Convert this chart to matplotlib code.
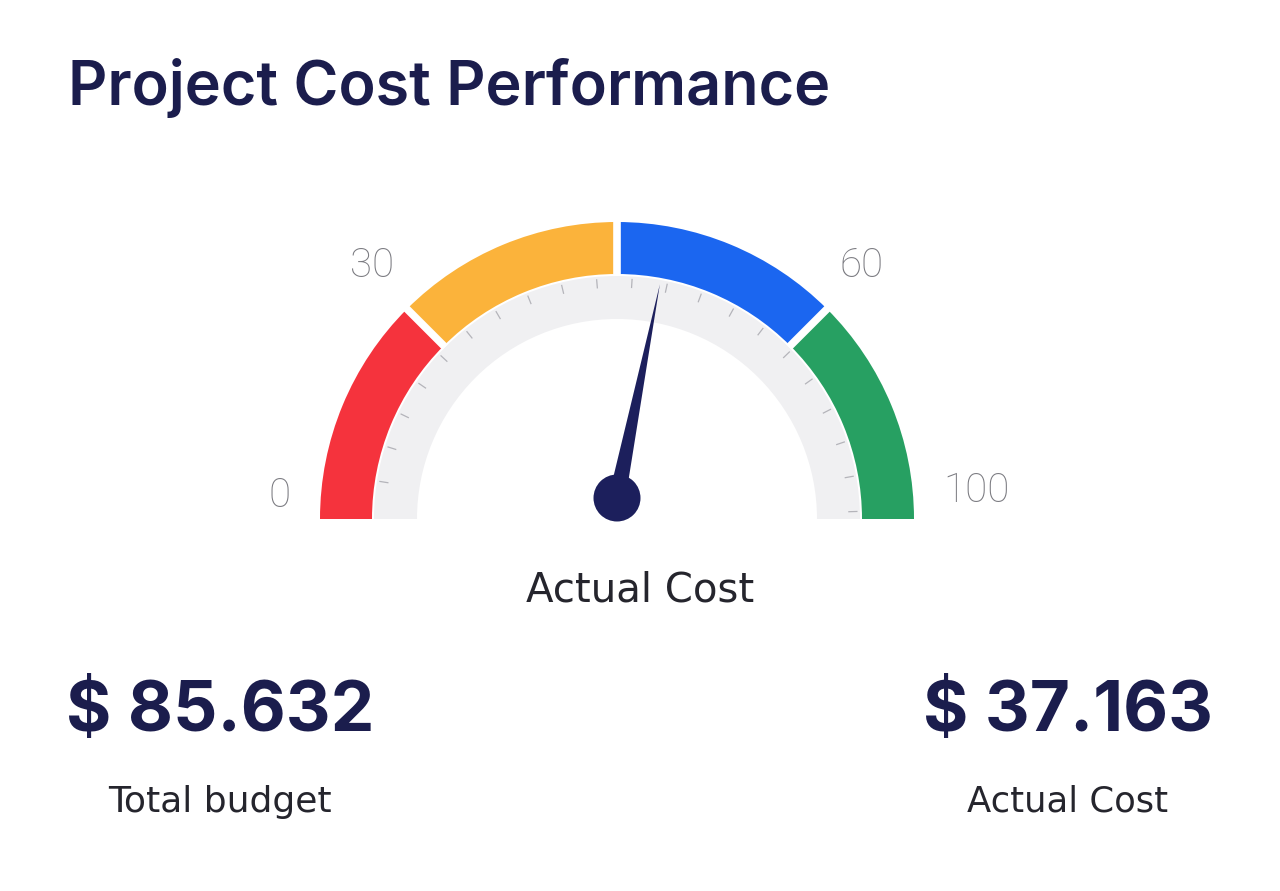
import numpy as np
import matplotlib
matplotlib.use("Agg")
import matplotlib.pyplot as plt
from matplotlib.patches import Wedge, Circle, Polygon

# ---- data ----
title = "Project Cost Performance"
segment_edges = [0, 25, 50, 75, 100]          # gauge scale positions of the coloured bands
segment_colors = ["#f5333d", "#fbb33b", "#1b66f0", "#27a062"]
label_positions = [2.2, 25.5, 74.5, 97.5]      # where the scale labels sit on the gauge
label_texts = ["0", "30", "60", "100"]
minor_ticks = np.arange(5, 100, 4.7)
needle_value = 56.3
gauge_caption = "Actual Cost"
kpi_values = ["$ 85.632", "$ 37.163"]
kpi_labels = ["Total budget", "Actual Cost"]

W, H = 1280, 891
fig = plt.figure(figsize=(W / 100, H / 100), dpi=100)
ax = fig.add_axes([0, 0, 1, 1])
ax.set_xlim(0, W)
ax.set_ylim(0, H)
ax.set_aspect("equal")
ax.axis("off")

NAVY = "#1b1d4d"
cx, cy = 617, H - 519
R_out, R_mid, R_in = 297, 245, 200


def ang(v):
    return 180 - v / 100 * 180


# grey track
ax.add_patch(Wedge((cx, cy), R_mid - 2, 0, 180, width=R_mid - 2 - R_in,
                   facecolor="#f0f0f2", edgecolor="none"))
# coloured bands
for i, c in enumerate(segment_colors):
    a1, a2 = ang(segment_edges[i + 1]), ang(segment_edges[i])
    ax.add_patch(Wedge((cx, cy), R_out, a1, a2, width=R_out - R_mid,
                       facecolor=c, edgecolor="none"))
# white gaps
for v in segment_edges[1:-1]:
    t = np.radians(ang(v))
    ax.plot([cx + (R_mid - 2) * np.cos(t), cx + (R_out + 5) * np.cos(t)],
            [cy + (R_mid - 2) * np.sin(t), cy + (R_out + 5) * np.sin(t)],
            color="white", lw=5.5, solid_capstyle="butt")

# minor ticks
for v in minor_ticks:
    t = np.radians(ang(v))
    ax.plot([cx + 232 * np.cos(t), cx + 240 * np.cos(t)],
            [cy + 232 * np.sin(t), cy + 240 * np.sin(t)],
            color="#b4b4ba", lw=0.9)

# scale labels
for v, s in zip(label_positions, label_texts):
    t = np.radians(ang(v))
    r = 352 if s not in ("0", "100") else (338 if s == "0" else 361)
    ax.text(cx + r * np.cos(t), cy + r * np.sin(t), s, ha="center", va="center",
            fontsize=29, color="#7a7a80", family="Roboto", fontweight="light")

# needle
hx, hy = 617, H - 498
t = np.radians(ang(needle_value))
L = 218
tip = (hx + L * np.cos(t), hy + L * np.sin(t))
px, py = -np.sin(t), np.cos(t)
bw = 8.5
ax.add_patch(Circle((hx, hy), 27, facecolor="white", edgecolor="none"))
ax.add_patch(Circle((hx, hy), 23.5, facecolor="#1c1f5c", edgecolor="none"))
ax.add_patch(Polygon([tip, (hx + bw * px, hy + bw * py), (hx - bw * px, hy - bw * py)],
                     closed=True, facecolor="#1c1f5c", edgecolor="none", zorder=3))

# texts
ax.text(68, H - 88, title, ha="left", va="center", fontsize=44,
        fontweight="semibold", color=NAVY, family="Inter")
ax.text(640, H - 590, gauge_caption, ha="center", va="center", fontsize=29,
        color="#25252d", family="DejaVu Sans")

kpi_x = [220, 1068]
kpi_label_sizes = [26, 25.5]
for x, v, l, fs in zip(kpi_x, kpi_values, kpi_labels, kpi_label_sizes):
    ax.text(x, H - 712, v, ha="center", va="center", fontsize=50,
            fontweight="bold", color=NAVY, family="Inter")
    ax.text(x, H - 802, l, ha="center", va="center", fontsize=fs,
            color="#25252d", family="DejaVu Sans")

fig.savefig("out.png", dpi=100, facecolor="white")
